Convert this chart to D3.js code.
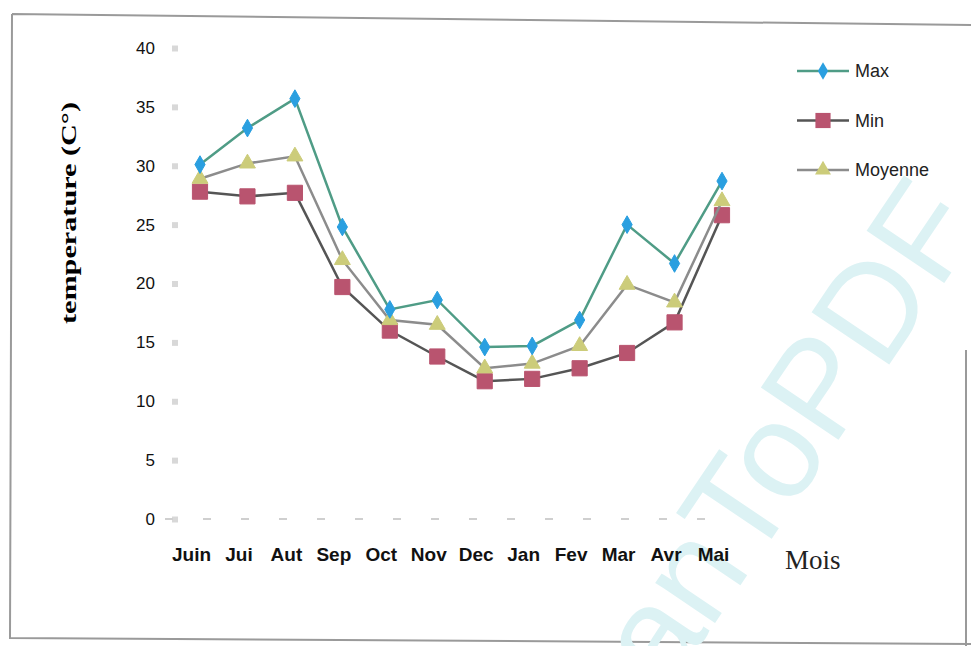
<!DOCTYPE html>
<html>
<head>
<meta charset="utf-8">
<script src="https://cdn.jsdelivr.net/npm/d3@7"></script>
<style>
  body { margin: 0; background: #fff; }
  .tick text { font-family: "Liberation Sans", Arial, sans-serif; fill: #111; }
</style>
</head>
<body>
<svg class="temp-chart"></svg>
<script>
var months = ["Juin", "Jui", "Aut", "Sep", "Oct", "Nov", "Dec", "Jan", "Fev", "Mar", "Avr", "Mai"];
var maxT = [30.1, 33.2, 35.7, 24.8, 17.8, 18.6, 14.6, 14.7, 16.9, 25.0, 21.7, 28.7];
var minT = [27.8, 27.4, 27.7, 19.7, 16.0, 13.8, 11.7, 11.9, 12.8, 14.1, 16.7, 25.8];
var moyT = [28.9, 30.2, 30.8, 22.0, 16.9, 16.5, 12.8, 13.2, 14.7, 19.9, 18.4, 27.0];
var yTicks = [0, 5, 10, 15, 20, 25, 30, 35, 40];
var seriesNames = ["Max", "Min", "Moyenne"];

var width = 971, height = 646;

var svg = d3.select(".temp-chart")
  .attr("width", width)
  .attr("height", height);

// scanned frame
svg.append("path")
  .attr("d", "M12,14 L971,25 M12,14 L10,638 L971,644 M966,350 L966,646")
  .attr("fill", "none")
  .attr("stroke", "#9a9a9a")
  .attr("stroke-width", 2);

// watermark of the scan
var wm = svg.append("g")
  .attr("transform", "translate(752,568) rotate(-56)")
  .attr("fill", "#dcf2f4")
  .style("font-family", "Liberation Sans, sans-serif")
  .style("font-size", "136px");
wm.append("text").attr("text-anchor", "start").text("ToPDF");
wm.append("text").attr("text-anchor", "end").text("an");

var x = d3.scalePoint().domain(months).range([200, 722]);
var y = d3.scaleLinear().domain([0, 40]).range([519, 48]);

// y axis: small grey squares as ticks
var yAxis = svg.append("g")
  .attr("transform", "translate(178,0)")
  .call(d3.axisLeft(y).tickValues(yTicks).tickSizeInner(6).tickSizeOuter(0).tickPadding(17));
yAxis.select(".domain").remove();
yAxis.selectAll(".tick line").attr("stroke", "#d8d8d8").attr("stroke-width", 6);
yAxis.selectAll(".tick text").style("font-size", "17px");

// x axis
svg.append("line")
  .attr("x1", 165).attr("x2", 705)
  .attr("y1", y(0)).attr("y2", y(0))
  .attr("stroke", "#cfcfcf")
  .attr("stroke-width", 2)
  .attr("stroke-dasharray", "8,30");

var xAxis = svg.append("g")
  .attr("transform", "translate(0," + y(0) + ")")
  .call(d3.axisBottom(x).tickSize(0).tickPadding(29));
xAxis.select(".domain").remove();
xAxis.selectAll(".tick text")
  .attr("dx", "-9")
  .style("font-size", "19px")
  .style("font-weight", "bold");

var series = [
  { name: "Max", values: maxT, line: "#4f9c86", fill: "#2a9fe0", symbol: d3.symbolDiamond, size: 90 },
  { name: "Min", values: minT, line: "#555555", fill: "#b9546f", symbol: d3.symbolSquare, size: 230 },
  { name: "Moyenne", values: moyT, line: "#8c8c8c", fill: "#cccc7a", symbol: d3.symbolTriangle, size: 110 }
];

var valueline = d3.line()
  .x(function(d, i) { return x(months[i]); })
  .y(function(d) { return y(d); });

// Min first, Max on top
[series[1], series[2], series[0]].forEach(function(s) {
  svg.append("path")
    .datum(s.values)
    .attr("fill", "none")
    .attr("stroke", s.line)
    .attr("stroke-width", 2.5)
    .attr("d", valueline);

  svg.selectAll(null)
    .data(s.values)
    .enter().append("path")
    .attr("transform", function(d, i) { return "translate(" + x(months[i]) + "," + y(d) + ")"; })
    .attr("d", d3.symbol().type(s.symbol).size(s.size))
    .attr("fill", s.fill)
    .attr("stroke", s.fill)
    .attr("stroke-width", 1);
});

// legend
var legend = svg.append("g");
var legendY = d3.scalePoint().domain(seriesNames).range([71, 170]);
series.forEach(function(s) {
  var ly = legendY(s.name);
  legend.append("line")
    .attr("x1", 797).attr("x2", 849)
    .attr("y1", ly).attr("y2", ly)
    .attr("stroke", s.line)
    .attr("stroke-width", 2.5);
  legend.append("path")
    .attr("transform", "translate(823," + ly + ")")
    .attr("d", d3.symbol().type(s.symbol).size(s.size))
    .attr("fill", s.fill);
  legend.append("text")
    .attr("x", 855)
    .attr("y", ly)
    .attr("dy", "0.35em")
    .style("font-family", "Liberation Sans, Arial, sans-serif")
    .style("font-size", "18px")
    .attr("fill", "#222")
    .text(s.name);
});

// axis titles
svg.append("text")
  .attr("transform", "rotate(-90)")
  .attr("x", -213)
  .attr("y", 76)
  .attr("text-anchor", "middle")
  .attr("textLength", 222)
  .attr("lengthAdjust", "spacingAndGlyphs")
  .style("font-family", "Liberation Serif, Times New Roman, serif")
  .style("font-weight", "bold")
  .style("font-size", "22px")
  .text("temperature (C°)");

svg.append("text")
  .attr("x", 785)
  .attr("y", 569)
  .style("font-family", "Liberation Serif, Times New Roman, serif")
  .style("font-size", "27px")
  .attr("fill", "#222")
  .text("Mois");
</script>
</body>
</html>
